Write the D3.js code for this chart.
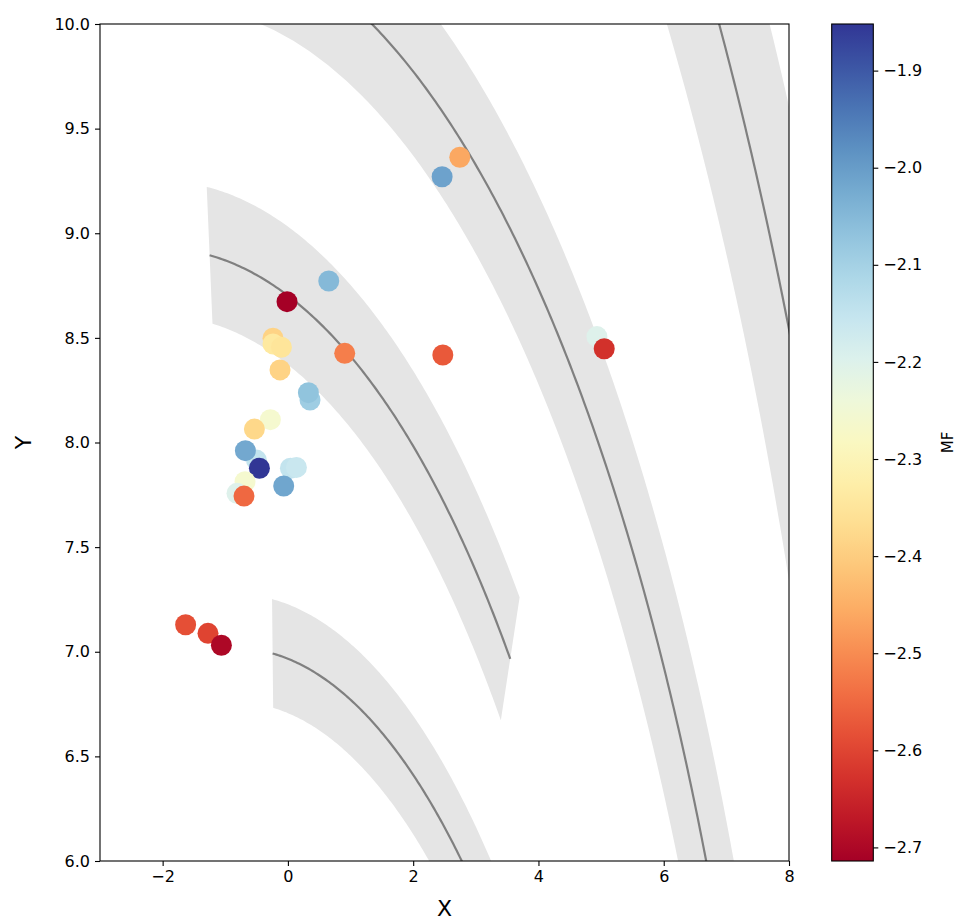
<!DOCTYPE html>
<html>
<head>
<meta charset="utf-8">
<script src="https://cdn.jsdelivr.net/npm/d3@7"></script>
<style>
  html, body { margin: 0; padding: 0; background: #ffffff; }
  svg { display: block; font-family: "DejaVu Sans", sans-serif; }
</style>
</head>
<body>
<svg id="chart" width="957" height="922"></svg>
<script>
// Star positions (kpc) and metallicity MF
const starX = [0.652, -0.014, -0.238, -0.238, -0.104, 0.907, -0.126, 0.353, 0.327, -0.280,
               -0.535, -0.503, -0.679, -0.455, 0.040, 0.136, -0.067, -0.685, -0.813, -0.701,
               2.744, 2.462, 4.933, 5.050, 2.473, -1.633, -1.276, -1.062];
const starY = [8.772, 8.673, 8.498, 8.471, 8.455, 8.426, 8.347, 8.203, 8.238, 8.109,
               8.064, 7.916, 7.961, 7.877, 7.877, 7.881, 7.792, 7.813, 7.757, 7.744,
               9.363, 9.270, 8.506, 8.448, 8.418, 7.129, 7.088, 7.031];
const starMF = [-2.05, -2.714, -2.39, -2.34, -2.35, -2.52, -2.39, -2.09, -2.07, -2.26,
                -2.38, -2.15, -2.02, -1.852, -2.15, -2.16, -2.016, -2.26, -2.20, -2.55,
                -2.46, -2.01, -2.20, -2.63, -2.57, -2.585, -2.60, -2.70];

// Log-spiral arm parameters: azimuth range (deg), reference radius (kpc) at
// reference azimuth (deg), pitch angle (deg), half-width (kpc)
const armNames   = ["Sagittarius", "Local", "Perseus", "Outer"];
const armBetaMin = [-2, -8, -21, -6];
const armBetaMax = [68, 27, 88, 56];
const armRref    = [6.6, 8.4, 9.9, 13.0];
const armBetaRef = [25.6, 8.9, 14.2, 18.6];
const armPitch   = [6.9, 12.8, 9.4, 13.8];
const armWidth   = [0.26, 0.33, 0.38, 0.63];

// Axis ticks
const xTicks  = [-2, 0, 2, 4, 6, 8];
const yTicks  = [6.0, 6.5, 7.0, 7.5, 8.0, 8.5, 9.0, 9.5, 10.0];
const cbTicks = [-1.9, -2.0, -2.1, -2.2, -2.3, -2.4, -2.5, -2.6, -2.7];

const svg = d3.select("#chart");
const L = 100, R = 789, T = 24, B = 861;
const x = d3.scaleLinear().domain([-3, 8]).range([L, R]);
const y = d3.scaleLinear().domain([6, 10]).range([B, T]);

const mfExtent = d3.extent(starMF);
const color = d3.scaleSequential(d3.interpolateRdYlBu).domain(mfExtent);

svg.append("defs").append("clipPath").attr("id", "plotclip")
  .append("rect").attr("x", L).attr("y", T).attr("width", R - L).attr("height", B - T);

const plot = svg.append("g").attr("clip-path", "url(#plotclip)");

// Spiral arm geometry: galactocentric radius as a function of azimuth
const rad = Math.PI / 180;
function armRadius(i, beta) {
  return armRref[i] * Math.exp(-(beta - armBetaRef[i]) * rad * Math.tan(armPitch[i] * rad));
}
function toXY(r, beta) {
  return [r * Math.sin(beta * rad), r * Math.cos(beta * rad)];
}

const line = d3.line().x(d => x(d[0])).y(d => y(d[1]));

armNames.forEach((name, i) => {
  const betas = d3.range(armBetaMin[i], armBetaMax[i] + 1e-9, 0.25);
  const center = betas.map(b => toXY(armRadius(i, b), b));
  const outer = betas.map(b => toXY(armRadius(i, b) + armWidth[i], b));
  const inner = betas.map(b => toXY(armRadius(i, b) - armWidth[i], b)).reverse();
  plot.append("path")
    .attr("class", "arm-band")
    .attr("d", line(outer.concat(inner)) + "Z")
    .attr("fill", "#e5e5e5")
    .attr("stroke", "none");
  plot.append("path")
    .attr("class", "arm-line")
    .attr("d", line(center))
    .attr("fill", "none")
    .attr("stroke", "#808080")
    .attr("stroke-width", 2.2);
});

// Stars
plot.selectAll("circle.star")
  .data(d3.range(starX.length))
  .join("circle")
  .attr("class", "star")
  .attr("cx", i => x(starX[i]))
  .attr("cy", i => y(starY[i]))
  .attr("r", 10.5)
  .attr("fill", i => color(starMF[i]));

// Axes
const fontSize = 16;
const xAxis = svg.append("g").attr("transform", `translate(0,${B})`)
  .call(d3.axisBottom(x).tickValues(xTicks).tickFormat(d3.format("d")).tickSize(5).tickPadding(5));
const yAxis = svg.append("g").attr("transform", `translate(${L},0)`)
  .call(d3.axisLeft(y).tickValues(yTicks).tickFormat(d3.format(".1f")).tickSize(5).tickPadding(5));
[xAxis, yAxis].forEach(g => {
  g.select(".domain").remove();
  g.selectAll(".tick line").attr("stroke", "#000").attr("stroke-width", 1.1);
  g.selectAll(".tick text").attr("fill", "#000").style("font-size", fontSize + "px")
    .style("font-family", "DejaVu Sans");
});

svg.append("rect").attr("x", L).attr("y", T).attr("width", R - L).attr("height", B - T)
  .attr("fill", "none").attr("stroke", "#000").attr("stroke-width", 1.1);

svg.append("text").attr("x", (L + R) / 2).attr("y", 916)
  .attr("text-anchor", "middle").style("font-size", "22px").text("X");
svg.append("text").attr("transform", `translate(31,${(T + B) / 2}) rotate(-90)`)
  .attr("text-anchor", "middle").style("font-size", "22px").text("Y");

// Colorbar
const cbL = 831.7, cbW = 41.6;
const cy = d3.scaleLinear().domain(mfExtent).range([B, T]);
const grad = svg.select("defs").append("linearGradient").attr("id", "cbgrad")
  .attr("x1", 0).attr("y1", 1).attr("x2", 0).attr("y2", 0);
d3.range(0, 1.0001, 0.05).forEach(t => {
  grad.append("stop").attr("offset", t).attr("stop-color", d3.interpolateRdYlBu(t));
});
svg.append("rect").attr("x", cbL).attr("y", T).attr("width", cbW).attr("height", B - T)
  .attr("fill", "url(#cbgrad)").attr("stroke", "#000").attr("stroke-width", 1.1);
const cbAxis = svg.append("g").attr("transform", `translate(${cbL + cbW},0)`)
  .call(d3.axisRight(cy).tickValues(cbTicks).tickFormat(d3.format(".1f")).tickSize(5).tickPadding(5));
cbAxis.select(".domain").remove();
cbAxis.selectAll(".tick line").attr("stroke", "#000").attr("stroke-width", 1.1);
cbAxis.selectAll(".tick text").attr("fill", "#000").style("font-size", fontSize + "px")
  .style("font-family", "DejaVu Sans");

svg.append("text").attr("transform", `translate(953,${(T + B) / 2}) rotate(-90)`)
  .attr("text-anchor", "middle").style("font-size", "15px").text("MF");
</script>
</body>
</html>
